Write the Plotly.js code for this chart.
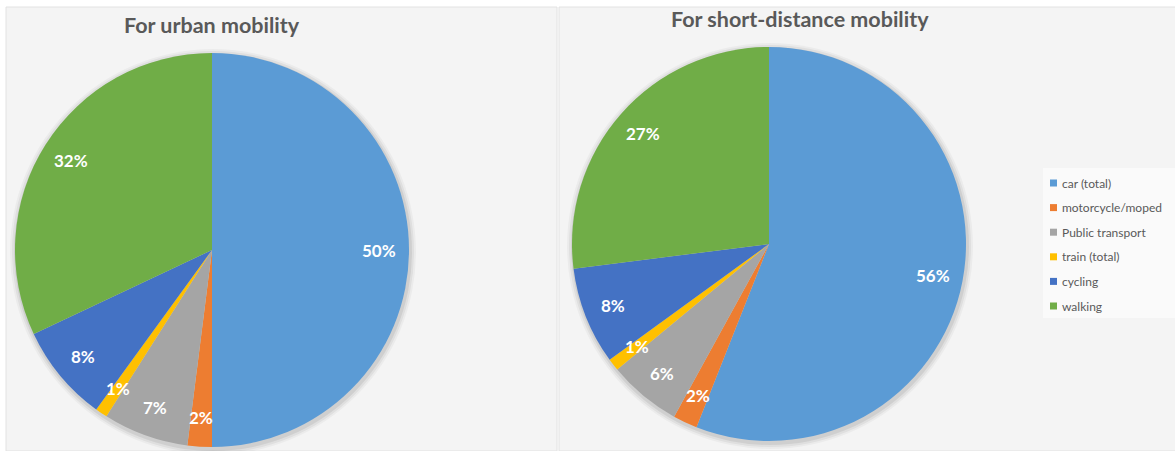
<!DOCTYPE html>
<html>
<head>
<meta charset="utf-8">
<script src="https://cdn.plot.ly/plotly-3.0.1.min.js"></script>
<style>
  html, body { margin: 0; padding: 0; background: #ffffff; }
  #chart { width: 1175px; height: 451px; }
</style>
</head>
<body>
<div id="chart"></div>
<script>
// ---- data ----
const labels = ['car (total)', 'motorcycle/moped', 'Public transport', 'train (total)', 'cycling', 'walking'];
const urbanValues = [50, 2, 7, 1, 8, 32];
const shortValues = [56, 2, 6, 1, 8, 27];
const chartTitles = ['For urban mobility', 'For short-distance mobility'];
const sliceColors = ['#5B9BD5', '#ED7D31', '#A5A5A5', '#FFC000', '#4472C4', '#70AD47'];

// ---- layout geometry (pixels) ----
const W = 1175, H = 451;
const FONT = 'Lato, "Open Sans", sans-serif';
const pies = [
  { values: urbanValues, cx: 212, cy: 250, r: 197, title: chartTitles[0], tx: 212, ty: 25 },
  { values: shortValues, cx: 769, cy: 244, r: 197, title: chartTitles[1], tx: 800, ty: 19 }
];
const px = x => x / W;
const py = y => 1 - y / H;

const traces = pies.map(p => ({
  type: 'pie',
  labels: labels,
  values: p.values,
  sort: false,
  direction: 'clockwise',
  rotation: 0,
  textinfo: 'none',
  marker: { colors: sliceColors, line: { width: 0 } },
  domain: { x: [px(p.cx - p.r), px(p.cx + p.r)], y: [py(p.cy + p.r), py(p.cy - p.r)] },
  showlegend: false,
  hoverinfo: 'label+percent'
}));

const annotations = [];
const shapes = [
  { type: 'rect', xref: 'paper', yref: 'paper', x0: px(6), x1: px(557), y0: py(451), y1: py(7),
    fillcolor: '#f4f4f4', line: { color: '#e2e2e2', width: 1 }, layer: 'below' },
  { type: 'rect', xref: 'paper', yref: 'paper', x0: px(559), x1: px(1176), y0: py(451), y1: py(7),
    fillcolor: '#f4f4f4', line: { color: '#e2e2e2', width: 1 }, layer: 'below' }
];

pies.forEach(p => {
  // soft shadow behind the pie
  [[6, 0.035], [4, 0.05], [2, 0.07]].forEach(([d, a]) => {
    shapes.push({ type: 'circle', xref: 'paper', yref: 'paper', layer: 'below',
      x0: px(p.cx - p.r - d + 1), x1: px(p.cx + p.r + d + 1),
      y0: py(p.cy + p.r + d + 2), y1: py(p.cy - p.r - d + 2),
      fillcolor: 'rgba(0,0,0,' + a + ')', line: { width: 0 } });
  });
  const total = p.values.reduce((a, b) => a + b, 0);
  let cum = 0;
  p.values.forEach(v => {
    const mid = (cum + v / 2) / total;
    cum += v;
    const th = 2 * Math.PI * mid;
    const k = 0.85;
    const x = p.cx + k * p.r * Math.sin(th);
    const y = p.cy - k * p.r * Math.cos(th);
    annotations.push({
      x: px(x), y: py(y), xref: 'paper', yref: 'paper',
      xanchor: 'center', yanchor: 'middle', showarrow: false,
      text: '<b>' + Math.round(v / total * 100) + '%</b>',
      font: { family: FONT, size: 17, color: '#ffffff' }
    });
  });
  annotations.push({
    x: px(p.tx), y: py(p.ty), xref: 'paper', yref: 'paper',
    xanchor: 'center', yanchor: 'middle', showarrow: false,
    text: '<b>' + p.title + '</b>',
    font: { family: FONT, size: 21.5, color: '#595959' }
  });
});

// ---- legend (built from labels and colours) ----
const legX = 1050, legY0 = 183, legStep = 24.6;
shapes.push({ type: 'rect', xref: 'paper', yref: 'paper', layer: 'below',
  x0: px(1043), x1: px(1175), y0: py(318), y1: py(168),
  fillcolor: 'rgba(255,255,255,0.55)', line: { width: 0 } });
labels.forEach((lab, i) => {
  const yc = legY0 + i * legStep;
  shapes.push({ type: 'rect', xref: 'paper', yref: 'paper',
    x0: px(legX), x1: px(legX + 7), y0: py(yc + 3.5), y1: py(yc - 3.5),
    fillcolor: sliceColors[i], line: { width: 0 } });
  annotations.push({
    x: px(legX + 10), y: py(yc), xref: 'paper', yref: 'paper',
    xanchor: 'left', yanchor: 'middle', showarrow: false,
    text: lab, font: { family: FONT, size: 12, color: '#595959' }
  });
});

const layout = {
  width: W, height: H,
  margin: { l: 0, r: 0, t: 0, b: 0 },
  paper_bgcolor: '#ffffff',
  showlegend: false,
  annotations: annotations,
  shapes: shapes
};

Plotly.newPlot('chart', traces, layout, { displayModeBar: false, staticPlot: true });
</script>
</body>
</html>
